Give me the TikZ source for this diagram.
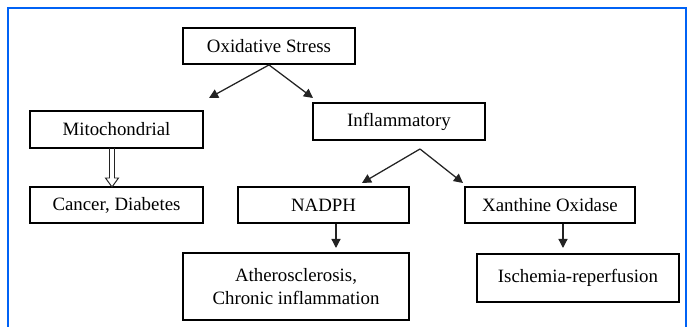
\documentclass[tikz,border=0pt]{standalone}
\usepackage{fontspec}
\setmainfont{Liberation Serif}
\usepackage{xcolor}
\usetikzlibrary{arrows.meta}
\definecolor{frameblue}{RGB}{0,98,245}
\definecolor{arrowgray}{RGB}{35,35,35}

\begin{document}
\begin{tikzpicture}[x=0.025cm, y=-0.025cm,
    box/.style={draw, line width=1.3pt, inner sep=0pt, align=center,
      font=\fontsize{13.4}{16}\selectfont},
    link/.style={draw=arrowgray, line width=0.9pt,
      -{Triangle[length=6.5pt, width=6.5pt]}},
    hollowarrow/.style={draw=arrowgray, line width=0.7pt, line join=miter}]
  \useasboundingbox (0,0) rectangle (693,327);
  \draw [frameblue, line width=1.5pt] (8,327) -- (8,8) -- (686,8) -- (686,327);

  \node [box, minimum width=4.3cm, minimum height=0.9cm] (os) at (269,46) {Oxidative Stress};
  \node [box, minimum width=4.325cm, minimum height=0.925cm] (mito) at (116.5,129.5) {Mitochondrial};
  \node [box, minimum width=4.3cm, minimum height=0.925cm] (infl) at (399,121.5) {Inflammatory};
  \node [box, minimum width=4.325cm, minimum height=0.9cm] (canc) at (116.5,205) {Cancer, Diabetes};
  \node [box, minimum width=4.275cm, minimum height=0.9cm] (nadph) at (323.5,205) {NADPH};
  \node [box, minimum width=4.25cm, minimum height=0.9cm] (xo) at (550,205) {Xanthine Oxidase};
  \node [box, minimum width=5.65cm, minimum height=1.675cm] (ath) at (296,286.5) {Atherosclerosis,\\Chronic inflammation};
  \node [box, minimum width=5.05cm, minimum height=1.2cm] (isch) at (578,278) {Ischemia-reperfusion};

  % free ends of the arrows
  \coordinate (os-l) at (209,98);
  \coordinate (os-r) at (313,98);
  \coordinate (infl-o) at (420,149);
  \coordinate (infl-l) at (362,183);
  \coordinate (infl-r) at (463,183);
  \coordinate (nadph-t) at (336,248);
  \coordinate (xo-t) at (563,248);
  \coordinate (mito-a) at (112,148);

  \foreach \t in {os-l,os-r}
    \draw [link] (os.south) -- (\t);
  \foreach \t in {infl-l,infl-r}
    \draw [link] (infl-o) -- (\t);
  \draw [link] (nadph.south -| nadph-t) -- (nadph-t);
  \draw [link] (xo.south -| xo-t) -- (xo-t);

  \draw [hollowarrow] (mito-a) ++(-2.5,0) -- ++(0,30) -- ++(-4,0) -- ++(6.5,9)
    -- ++(6.5,-9) -- ++(-4,0) -- ++(0,-30);
\end{tikzpicture}
\end{document}
